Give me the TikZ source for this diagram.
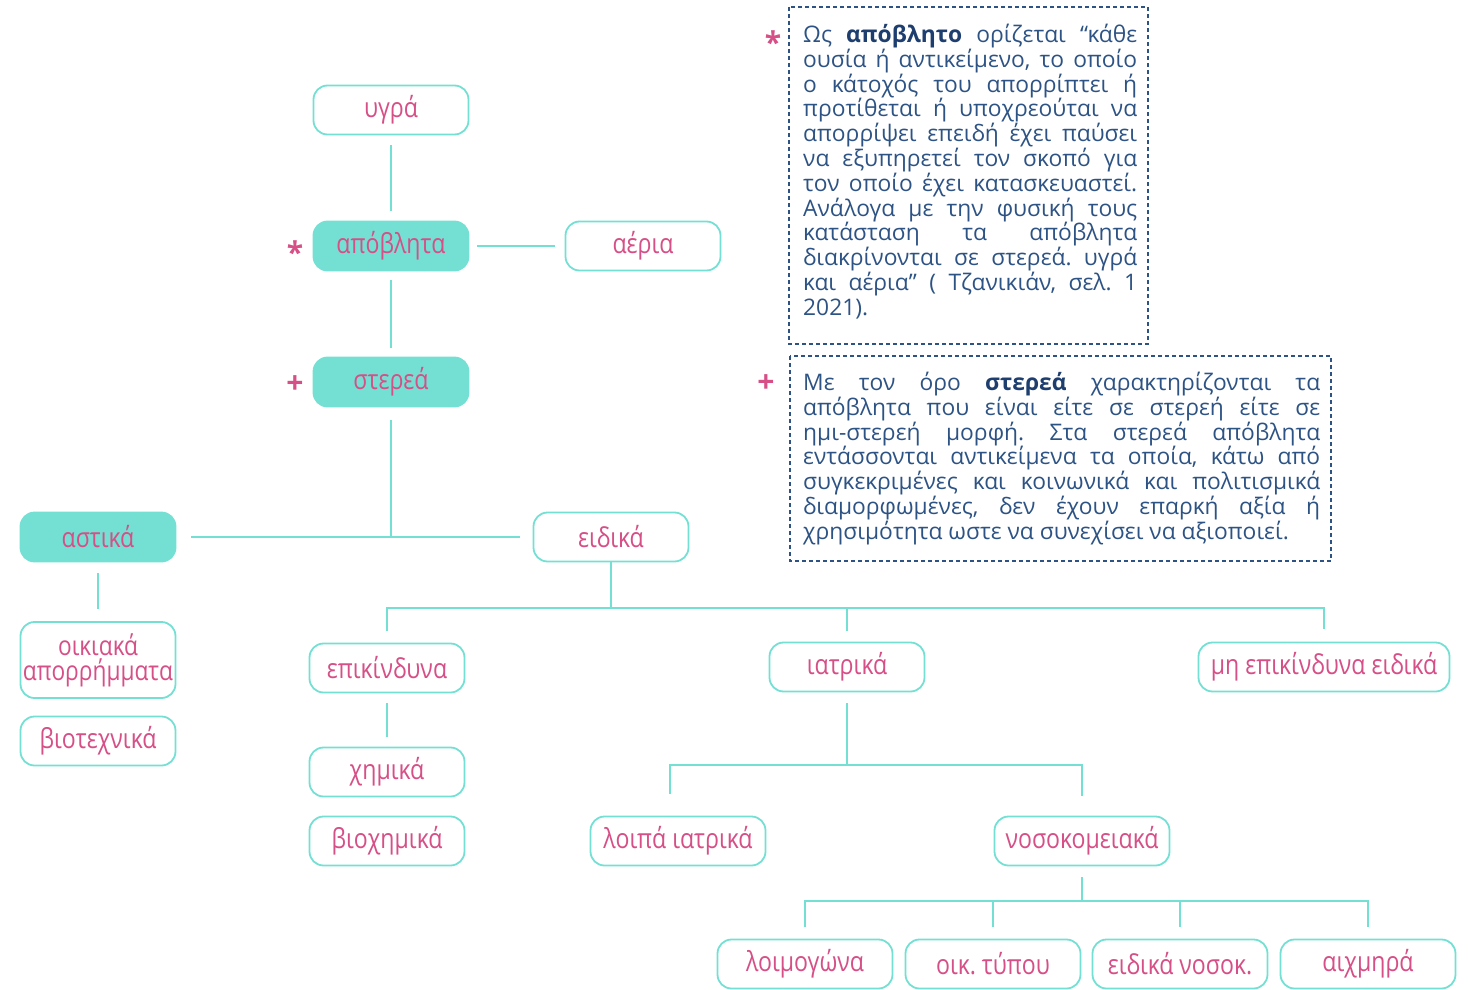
\documentclass[tikz,border=0pt]{standalone}
\usepackage{fontspec}
\setmainfont{Open Sans}
\newfontfamily\nodefont{Open Sans}[FakeStretch=0.84]
\definecolor{tealc}{HTML}{74E0D4}
\definecolor{pinkc}{HTML}{D64F86}
\definecolor{noteblue}{HTML}{2D5384}
\definecolor{boldblue}{HTML}{1D3E6E}
\newcommand\jline[2]{\makebox[#1][s]{#2}}
\frenchspacing
\begin{document}
\begin{tikzpicture}[x=1pt,y=-1pt,
  box/.style={draw=tealc, line width=1.8pt, rounded corners=14pt, minimum width=155pt,
    minimum height=49pt, text=pinkc, font=\nodefont\fontsize{27.5}{28}\selectfont, inner sep=2pt,
    fill=white, align=center},
  fbox/.style={box, fill=tealc},
  conn/.style={draw=tealc, line width=1.8pt},
  sym/.style={text=pinkc, font=\bfseries\fontsize{30}{30}\selectfont, inner sep=0pt},
  note/.style={text=noteblue, font=\frenchspacing\fontsize{22.8}{24.8}\selectfont, inner sep=0pt, align=left, anchor=north west},
  notebox/.style={draw=noteblue, line width=1.6pt, dash pattern=on 4pt off 3pt},
]
\useasboundingbox (0,0) rectangle (1468,990);

% nodes
\node[box] (ugra) at (391,110) {υγρά};
\node[fbox] (apo) at (391,246) {απόβλητα};
\node[box] (aeria) at (643,246) {αέρια};
\node[fbox] (sterea) at (391,382) {στερεά};
\node[fbox] (astika) at (98,537) {αστικά};
\node[box] (eidika) at (611,537) {ειδικά};
\node[box, minimum height=76pt, font=\nodefont\fontsize{27}{25}\selectfont] (oikiaka) at (98,660) {οικιακά\\απορρήμματα};
\node[box] (biotex) at (98,741) {βιοτεχνικά};
\node[box] (epik) at (387,668) {επικίνδυνα};
\node[box] (xhm) at (387,772) {χημικά};
\node[box] (bioxhm) at (387,841) {βιοχημικά};
\node[box] (iatr) at (847,667) {ιατρικά};
\node[box, minimum width=251pt] (mhep) at (1324,667) {μη επικίνδυνα ειδικά};
\node[box, minimum width=175pt] (loipa) at (678,841) {λοιπά ιατρικά};
\node[box, minimum width=175pt] (noso) at (1082,841) {νοσοκομειακά};
\node[box, minimum width=175pt] (loim) at (805,964) {λοιμογώνα};
\node[box, minimum width=175pt] (oikt) at (993,964) {οικ. τύπου};
\node[box, minimum width=175pt] (eidn) at (1180,964) {ειδικά νοσοκ.};
\node[box, minimum width=175pt] (aixm) at (1368,964) {αιχμηρά};

% junctions
\coordinate (j1) at (391,537);
\coordinate (j2) at (611,608);
\coordinate (j3) at (847,765);
\coordinate (j3l) at (670,765);
\coordinate (j4) at (1082,901);

% connectors
\draw[conn, shorten <=10pt, shorten >=10pt] (ugra) -- (apo);
\draw[conn, shorten <=8pt, shorten >=10pt] (apo) -- (aeria);
\draw[conn, shorten <=9pt, shorten >=9pt] (apo) -- (sterea);
\draw[conn, shorten <=13pt] (sterea) -- (j1);
\draw[conn, shorten >=15pt] (j1) -- (astika);
\draw[conn, shorten >=13pt] (j1) -- (eidika);
\draw[conn, shorten <=11pt, shorten >=12pt] (astika) -- (oikiaka);
\draw[conn] (eidika) -- (j2);
\draw[conn, shorten >=12pt] (j2) -| (epik);
\draw[conn, shorten >=11pt] (j2) -| (iatr);
\draw[conn, shorten >=13pt] (j2) -| (mhep);
\draw[conn, shorten <=10pt, shorten >=10pt] (epik) -- (xhm);
\draw[conn, shorten <=11pt] (iatr) -- (j3);
\draw[conn, shorten >=22pt] (j3) -- (j3l) -- (j3l |- loipa.north);
\draw[conn, shorten >=20pt] (j3) -| (noso);
\draw[conn, shorten <=11pt] (noso) -- (j4);
\draw[conn, shorten >=12pt] (j4) -| (loim);
\draw[conn, shorten >=12pt] (j4) -| (oikt);
\draw[conn, shorten >=12pt] (j4) -| (eidn);
\draw[conn, shorten >=12pt] (j4) -| (aixm);

% symbols
\node[sym] (s1) at (295,252) {*};
\node[sym] (p1) at (295,385) {+};
\node[sym] (s2) at (773,42) {*};
\node[sym] (p2) at (766,384) {+};

% note boxes
\draw[notebox] (789,7) rectangle (1148,344);
\draw[notebox] (790,356) rectangle (1331,561);

\node[note] (n1) at (803,24) {%
\jline{334pt}{Ως \textbf{\color{boldblue}απόβλητο} ορίζεται “κάθε}\\
\jline{334pt}{ουσία ή αντικείμενο, το οποίο}\\
\jline{334pt}{ο κάτοχός του απορρίπτει ή}\\
\jline{334pt}{προτίθεται ή υποχρεούται να}\\
\jline{334pt}{απορρίψει επειδή έχει παύσει}\\
\jline{334pt}{να εξυπηρετεί τον σκοπό για}\\
\jline{334pt}{τον οποίο έχει κατασκευαστεί.}\\
\jline{334pt}{Ανάλογα με την φυσική τους}\\
\jline{334pt}{κατάσταση τα απόβλητα}\\
\jline{334pt}{διακρίνονται σε στερεά. υγρά}\\
\jline{334pt}{και αέρια” ( Τζανικιάν, σελ. 1}\\
2021).};

\node[note] (n2) at (803,372) {%
\jline{517pt}{Με τον όρο \textbf{\color{boldblue}στερεά} χαρακτηρίζονται τα}\\
\jline{517pt}{απόβλητα που είναι είτε σε στερεή είτε σε}\\
\jline{517pt}{ημι-στερεή μορφή. Στα στερεά απόβλητα}\\
\jline{517pt}{εντάσσονται αντικείμενα τα οποία, κάτω από}\\
\jline{517pt}{συγκεκριμένες και κοινωνικά και πολιτισμικά}\\
\jline{517pt}{διαμορφωμένες, δεν έχουν επαρκή αξία ή}\\
χρησιμότητα ωστε να συνεχίσει να αξιοποιεί.};
\end{tikzpicture}
\end{document}
